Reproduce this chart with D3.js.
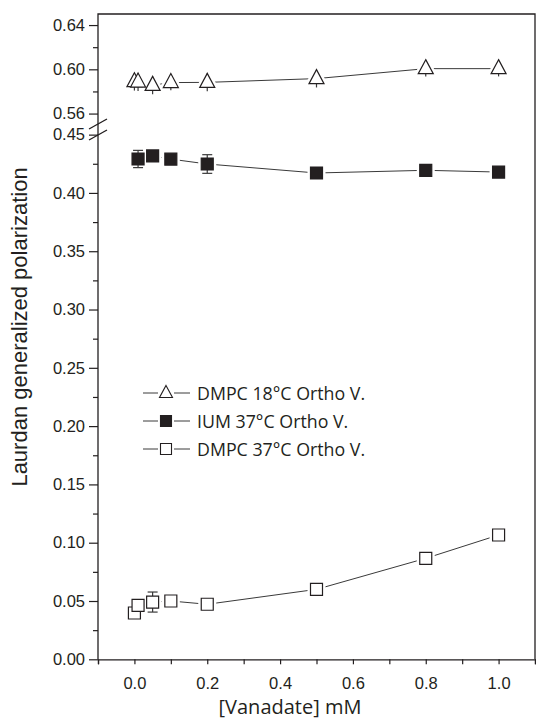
<!DOCTYPE html>
<html>
<head>
<meta charset="utf-8">
<script src="https://d3js.org/d3.v7.min.js"></script>
<style>
  body { margin: 0; background: #fff; }
  .tick text { font-family: "Liberation Sans", Arial, sans-serif; font-size: 16.5px; fill: #231f20; }
  .t1 { font-family: "Liberation Sans", Arial, sans-serif; font-size: 22px; fill: #231f20; }
  .t2 { font-family: "Open Sans", sans-serif; font-size: 20px; fill: #231f20; }
  .leg { font-family: "Open Sans", sans-serif; font-size: 17.8px; fill: #231f20; }
</style>
</head>
<body>
<svg id="chart" width="536" height="720"></svg>
<script>
// vanadate concentration (mM)
var xTri = [0, 0.01, 0.05, 0.1, 0.2, 0.5, 0.8, 1.0];
var gpTri = [0.5888, 0.5885, 0.5855, 0.588, 0.5882, 0.5916, 0.6006, 0.6006];
var errTri = [0.008, 0.008, 0.008, 0.007, 0.008, 0.008, 0.007, 0.007];

var xFill = [0.01, 0.05, 0.1, 0.2, 0.5, 0.8, 1.0];
var gpFill = [0.4291, 0.4317, 0.429, 0.4248, 0.4171, 0.4194, 0.4179];
var errFill = [0.0074, 0.003, 0.003, 0.008, 0.003, 0.003, 0.003];

var xOpen = [0, 0.01, 0.05, 0.1, 0.2, 0.5, 0.8, 1.0];
var gpOpen = [0.0397, 0.0463, 0.0491, 0.050, 0.0472, 0.060, 0.0866, 0.1066];
var errOpen = [0.004, 0.003, 0.0086, 0.003, 0.003, 0.003, 0.003, 0.003];

var legendLabels = ["DMPC 18\u00b0C Ortho V.", "IUM 37\u00b0C Ortho V.", "DMPC 37\u00b0C Ortho V."];

var svg = d3.select("#chart");
var ink = "#231f20";
var plotL = 98, plotR = 535, plotT = 14, plotB = 659.3;

var x = d3.scaleLinear().domain([-0.1, 1.1]).range([plotL, plotR]);
// broken y axis: upper and lower segments
var yUp = d3.scaleLinear().domain([0.555, 0.65]).range([119.1, plotT]);
var yLow = d3.scaleLinear().domain([0, 0.455]).range([plotB, 128.8]);

// frame
svg.append("path")
  .attr("d", "M" + plotL + "," + plotB + "V" + plotT + "H" + plotR + "V" + plotB)
  .attr("fill", "none").attr("stroke", ink).attr("stroke-width", 1.3);

// x axis
var xAxis = svg.append("g")
  .attr("transform", "translate(0," + plotB + ")")
  .call(d3.axisBottom(x).tickValues(d3.range(-0.1, 1.101, 0.1)).tickSize(5).tickPadding(13)
    .tickFormat(function(d) { return (Math.abs(Math.round(d * 10)) % 2 == 0 && d > -0.05 && d < 1.05) ? d3.format(".1f")(d) : ""; }));
xAxis.select(".domain").attr("stroke", ink).attr("stroke-width", 1.3);
xAxis.selectAll("line").attr("stroke", ink).attr("stroke-width", 1.2);
xAxis.selectAll("text").attr("dy", "0.71em");

// y axis lower
var yAxisLow = svg.append("g")
  .attr("transform", "translate(" + plotL + ",0)")
  .call(d3.axisLeft(yLow).tickValues(d3.range(0, 0.451, 0.05)).tickSize(9).tickPadding(4).tickFormat(d3.format(".2f")));
yAxisLow.select(".domain").remove();
yAxisLow.selectAll("line").attr("stroke", ink).attr("stroke-width", 1.2);

var yMinorLow = svg.append("g")
  .attr("transform", "translate(" + plotL + ",0)")
  .call(d3.axisLeft(yLow).tickValues(d3.range(0.025, 0.45, 0.05)).tickSize(5).tickFormat(""));
yMinorLow.select(".domain").remove();
yMinorLow.selectAll("line").attr("stroke", ink).attr("stroke-width", 1.2);

// y axis upper
var yAxisUp = svg.append("g")
  .attr("transform", "translate(" + plotL + ",0)")
  .call(d3.axisLeft(yUp).tickValues([0.56, 0.60, 0.64]).tickSize(9).tickPadding(4).tickFormat(d3.format(".2f")));
yAxisUp.select(".domain").remove();
yAxisUp.selectAll("line").attr("stroke", ink).attr("stroke-width", 1.2);

var yMinorUp = svg.append("g")
  .attr("transform", "translate(" + plotL + ",0)")
  .call(d3.axisLeft(yUp).tickValues([0.58, 0.62]).tickSize(5).tickFormat(""));
yMinorUp.select(".domain").remove();
yMinorUp.selectAll("line").attr("stroke", ink).attr("stroke-width", 1.2);

// break marks
[124, 135].forEach(function(cy) {
  svg.append("line")
    .attr("x1", plotL - 9).attr("y1", cy + 5)
    .attr("x2", plotL + 9).attr("y2", cy - 5)
    .attr("stroke", ink).attr("stroke-width", 1.4);
});

// axis titles
svg.append("text")
  .attr("class", "t2")
  .attr("x", 290)
  .attr("y", 714)
  .attr("text-anchor", "middle")
  .text("[Vanadate] mM");

svg.append("text")
  .attr("class", "t1")
  .attr("transform", "translate(27,327) rotate(-90)")
  .attr("text-anchor", "middle")
  .text("Laurdan generalized polarization");

// symbols
var triPath = "M0,-9L7.5,5L-7.5,5Z";
var sqPath = "M-6,-6H6V6H-6Z";

function drawSeries(xs, ys, errs, yScale, shape, fill, cap) {
  var pts = xs.map(function(d, i) { return { x: x(d), y: yScale(ys[i]), e0: yScale(ys[i] - errs[i]), e1: yScale(ys[i] + errs[i]) }; });
  var g = svg.append("g");
  g.append("path")
    .attr("d", d3.line().x(function(d) { return d.x; }).y(function(d) { return d.y; })(pts))
    .attr("fill", "none").attr("stroke", "#3a3a3a").attr("stroke-width", 1);
  // white halo so the line stops short of each symbol
  g.selectAll(".halo").data(pts).enter().append("path")
    .attr("d", shape)
    .attr("transform", function(d) { return "translate(" + d.x + "," + d.y + ")"; })
    .attr("fill", "#fff").attr("stroke", "#fff").attr("stroke-width", 6);
  var eb = g.selectAll(".err").data(pts).enter().append("g").attr("stroke", "#3a3a3a").attr("stroke-width", 1.2);
  eb.append("line").attr("x1", function(d) { return d.x; }).attr("x2", function(d) { return d.x; })
    .attr("y1", function(d) { return d.e0; }).attr("y2", function(d) { return d.e1; });
  if (cap > 0) {
    eb.append("line").attr("x1", function(d) { return d.x - cap; }).attr("x2", function(d) { return d.x + cap; })
      .attr("y1", function(d) { return d.e0; }).attr("y2", function(d) { return d.e0; });
    eb.append("line").attr("x1", function(d) { return d.x - cap; }).attr("x2", function(d) { return d.x + cap; })
      .attr("y1", function(d) { return d.e1; }).attr("y2", function(d) { return d.e1; });
  }
  g.selectAll(".sym").data(pts).enter().append("path")
    .attr("d", shape)
    .attr("transform", function(d) { return "translate(" + d.x + "," + d.y + ")"; })
    .attr("fill", fill).attr("stroke", ink).attr("stroke-width", 1.2);
}

drawSeries(xTri, gpTri, errTri, yUp, triPath, "#fff", 0);
drawSeries(xFill, gpFill, errFill, yLow, sqPath, ink, 5);
drawSeries(xOpen, gpOpen, errOpen, yLow, sqPath, "#fff", 5);

// legend
var legShapes = ["M0,-7.5L6.5,4.5L-6.5,4.5Z", "M-5.5,-5.5H5.5V5.5H-5.5Z", "M-5.5,-5.5H5.5V5.5H-5.5Z"];
var legFills = ["#fff", ink, "#fff"];
var legend = svg.append("g").selectAll("g")
  .data(legendLabels)
  .enter().append("g")
  .attr("transform", function(d, i) { return "translate(166," + (393 + i * 28) + ")"; });
legend.append("line").attr("x1", -23).attr("x2", -8).attr("stroke", "#3a3a3a");
legend.append("line").attr("x1", 8).attr("x2", 24).attr("stroke", "#3a3a3a");
legend.append("path")
  .attr("d", function(d, i) { return legShapes[i]; })
  .attr("fill", function(d, i) { return legFills[i]; })
  .attr("stroke", ink).attr("stroke-width", 1.1);
legend.append("text")
  .attr("class", "leg")
  .attr("x", 31)
  .attr("y", 6.5)
  .text(function(d) { return d; });
</script>
</body>
</html>
